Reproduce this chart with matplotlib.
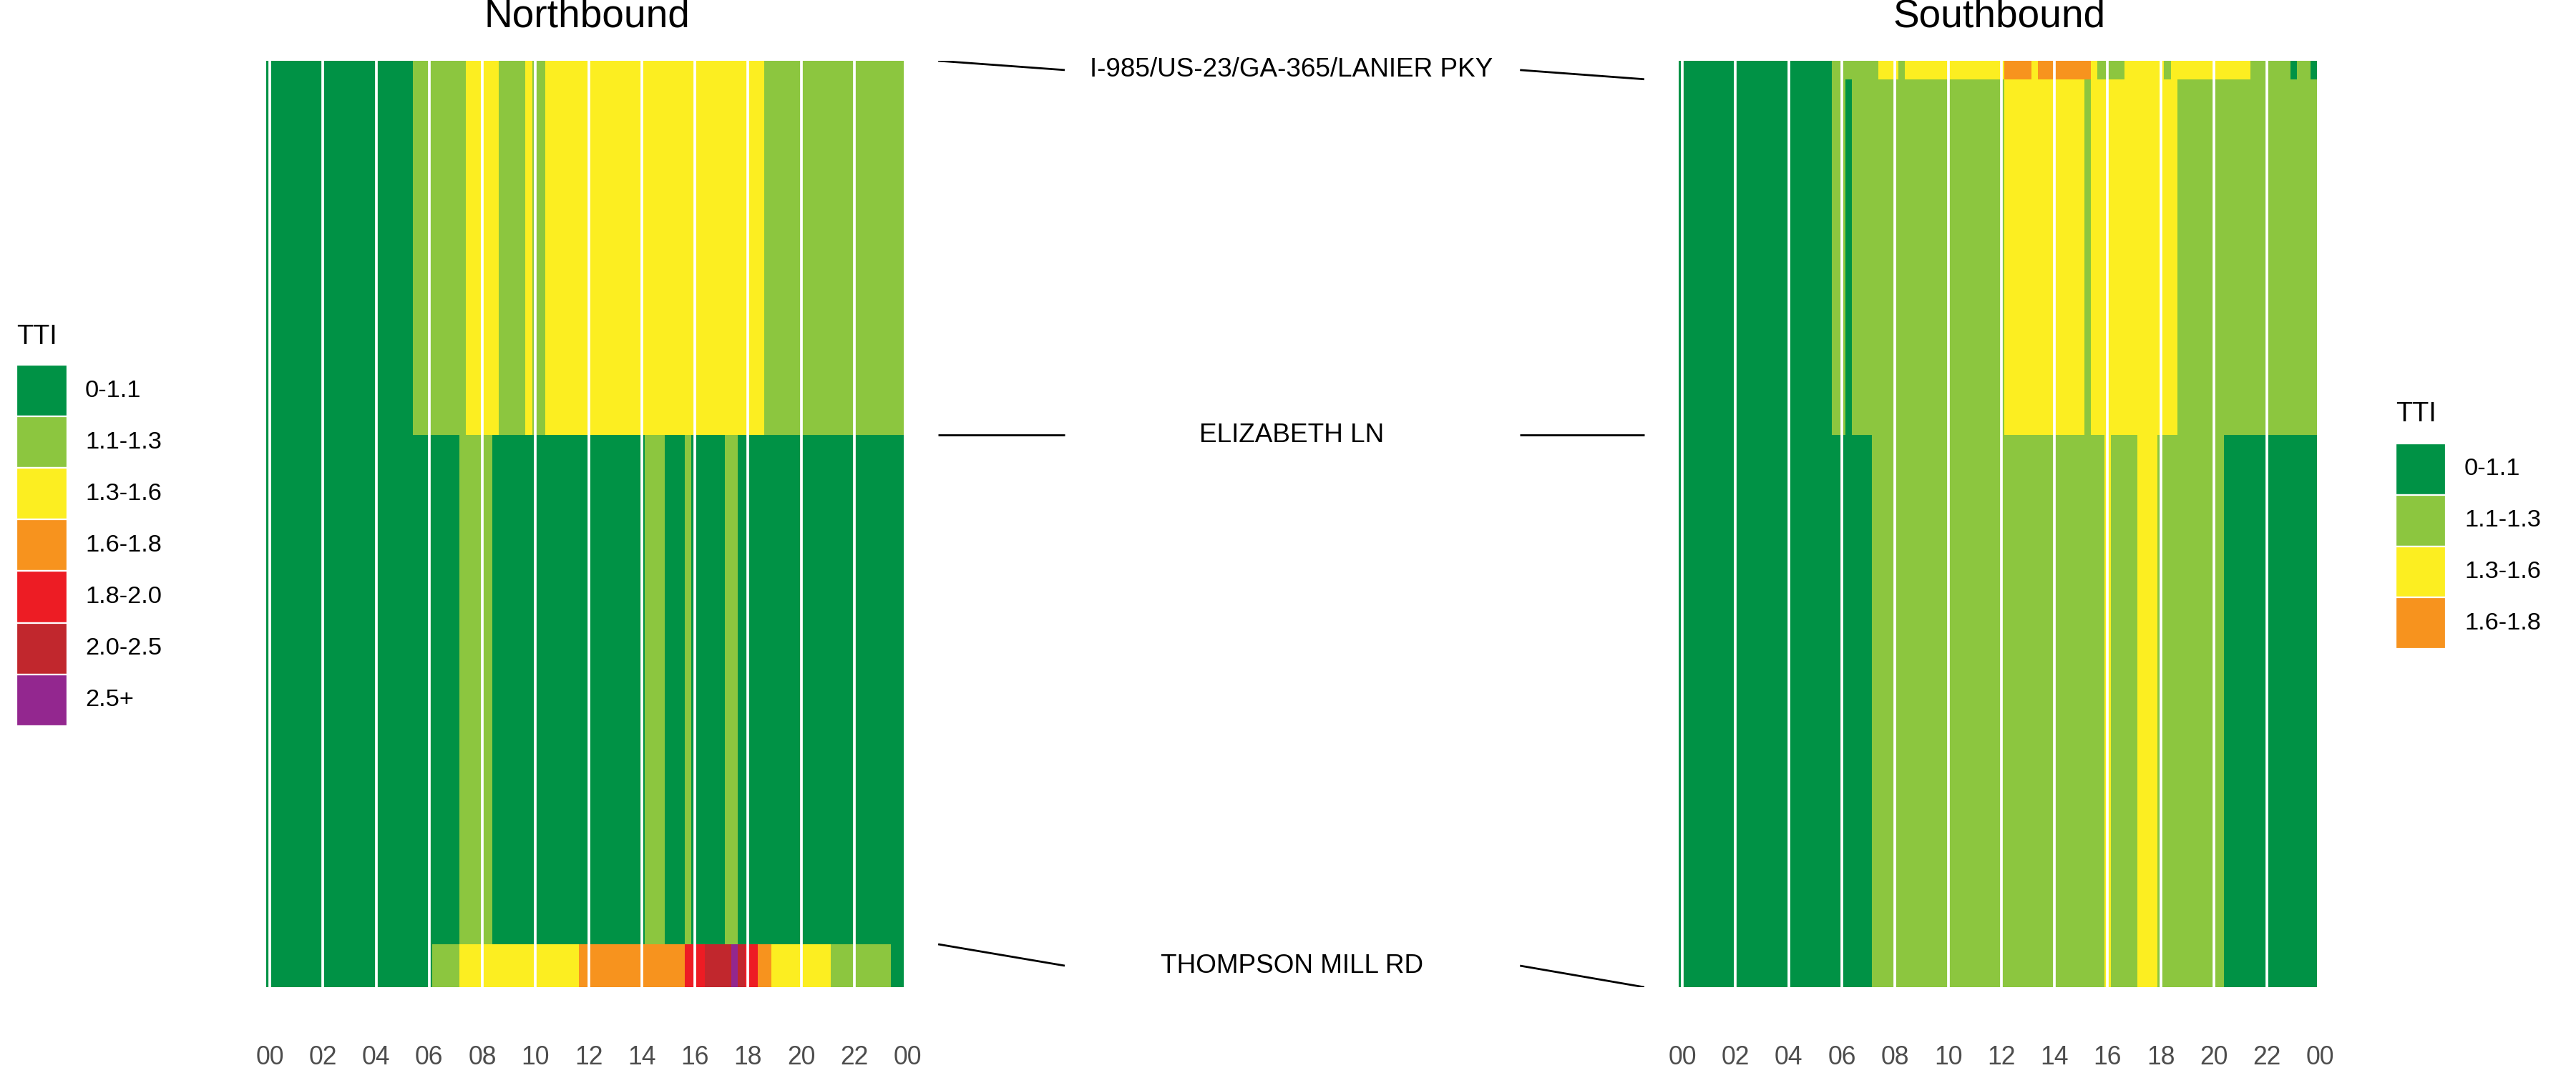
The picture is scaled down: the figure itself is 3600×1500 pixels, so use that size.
import numpy as np
import matplotlib
matplotlib.use("Agg")
import matplotlib.pyplot as plt
from matplotlib.colors import ListedColormap, BoundaryNorm
from matplotlib.patches import Rectangle

plt.rcParams['font.family'] = ['Liberation Sans', 'DejaVu Sans']

# ---------------- data ----------------
TTI_LABELS = ['0-1.1', '1.1-1.3', '1.3-1.6', '1.6-1.8', '1.8-2.0', '2.0-2.5', '2.5+']
TTI_COLORS = ['#009245', '#8CC63F', '#FCEE21', '#F7931E', '#ED1C24', '#C1272D', '#93278F']

HOURS = np.arange(0, 24, 0.25)            # 15-minute bin centres
HOUR_TICKS = list(range(0, 25, 2))
HOUR_LABELS = ['00', '02', '04', '06', '08', '10', '12', '14', '16', '18', '20', '22', '00']

LANDMARKS = ['I-985/US-23/GA-365/LANIER PKY', 'ELIZABETH LN', 'THOMPSON MILL RD']
NB_LANDMARK_MI = [8.094, 4.825, 0.375]
SB_LANDMARK_MI = [7.933, 4.825, 0.0]

# segment edges (miles, bottom to top)
NB_EDGES = [0.0, 0.375, 4.825, 8.094]
SB_EDGES = [0.0, 4.825, 7.933, 8.094]

# runs of (first bin start hour, TTI class index)
NB_SOUTH_OF_THOMPSON = [(0, 0), (6.25, 1), (7.25, 2), (11.75, 3), (15.75, 4), (16.5, 5),
                        (17.5, 6), (17.75, 5), (18.0, 4), (18.5, 3), (19.0, 2), (21.25, 1),
                        (23.5, 0)]
NB_THOMPSON_ELIZABETH = [(0, 0), (7.25, 1), (8.5, 0), (14.25, 1), (15.0, 0), (15.75, 1),
                         (16.0, 0), (17.25, 1), (17.75, 0)]
NB_ELIZABETH_I985 = [(0, 0), (5.5, 1), (7.5, 2), (8.75, 1), (9.75, 2), (10.0, 1),
                     (10.5, 2), (18.75, 1)]

SB_ELIZABETH_THOMPSON = [(0, 0), (7.25, 1), (16.0, 2), (16.25, 1), (17.25, 2), (18.0, 1),
                         (20.5, 0)]
SB_I985_ELIZABETH = [(0, 0), (5.75, 1), (6.25, 0), (6.5, 1), (12.25, 2), (15.25, 1),
                     (15.5, 2), (18.75, 1)]
SB_NORTH_OF_I985 = [(0, 0), (5.75, 1), (7.5, 2), (8.25, 1), (8.5, 2), (12.25, 3), (13.25, 2),
                    (13.5, 3), (15.5, 2), (15.75, 1), (16.75, 2), (18.25, 1), (18.5, 2),
                    (21.5, 1), (23.0, 0), (23.25, 1), (23.75, 0)]


def expand(runs):
    out = np.zeros(len(HOURS), dtype=int)
    for start, code in runs:
        out[HOURS >= start - 1e-9] = code
    return out


NB_Z = np.array([expand(r) for r in (NB_SOUTH_OF_THOMPSON, NB_THOMPSON_ELIZABETH, NB_ELIZABETH_I985)])
SB_Z = np.array([expand(r) for r in (SB_ELIZABETH_THOMPSON, SB_I985_ELIZABETH, SB_NORTH_OF_I985)])

# ---------------- figure ----------------
W, H = 3600, 1500
fig = plt.figure(figsize=(18, 7.5), dpi=200)
fig.patch.set_facecolor('white')

cmap = ListedColormap(TTI_COLORS)
norm = BoundaryNorm(np.arange(-0.5, len(TTI_COLORS) + 0.5, 1), cmap.N)
x_edges = np.append(HOURS - 0.125, HOURS[-1] + 0.125)
YMAX = max(NB_EDGES[-1], SB_EDGES[-1])

ax_bottom = (H - 1380) / H
ax_height = 1295 / H


def heat_panel(left_px, right_px, edges, Z, title):
    ax = fig.add_axes([left_px / W, ax_bottom, (right_px - left_px) / W, ax_height])
    ax.pcolormesh(x_edges, edges, Z, cmap=cmap, norm=norm, shading='flat',
                  edgecolors='face', linewidth=0, antialiased=False)
    ax.set_xlim(-0.125, 24)
    ax.set_ylim(0, YMAX)
    ax.set_xticks(HOUR_TICKS, HOUR_LABELS)
    ax.set_yticks([])
    ax.tick_params(axis='x', length=0, pad=29, labelsize=12.8, labelcolor='#4D4D4D')
    ax.grid(axis='x', color='white', linewidth=1.35)
    ax.set_axisbelow(False)
    for s in ax.spines.values():
        s.set_visible(False)
    ax.set_facecolor('none')
    ax.text(0.5, (1380 - 23) / 1295, title, transform=ax.transAxes, ha='center',
            va='center', fontsize=19.8, color='black')
    return ax


ax_nb = heat_panel(372.4, 1268.0, NB_EDGES, NB_Z, 'Northbound')
ax_sb = heat_panel(2346.4, 3242.6, SB_EDGES, SB_Z, 'Southbound')

# middle connector panel
ax_mid = fig.add_axes([1268.0 / W, ax_bottom, (2346.4 - 1268.0) / W, ax_height])
ax_mid.set_xlim(0, 1)
ax_mid.set_ylim(0, YMAX)
ax_mid.axis('off')
for name, nb, sb in zip(LANDMARKS, NB_LANDMARK_MI, SB_LANDMARK_MI):
    mid = (nb + sb) / 2
    ax_mid.plot([0.040, 0.204], [nb, mid], color='black', linewidth=1.0, solid_capstyle='butt')
    ax_mid.plot([0.794, 0.955], [mid, sb], color='black', linewidth=1.0, solid_capstyle='butt')
    ax_mid.text(0.498, mid, name, ha='center', va='center', fontsize=13.3, color='black')

# legends (pixel-coordinate overlay)
ov = fig.add_axes([0, 0, 1, 1])
ov.set_xlim(0, W)
ov.set_ylim(H, 0)
ov.axis('off')


def draw_legend(x0, title_y, box_top, box_w, box_h, label_x, codes):
    ov.text(x0, title_y, 'TTI', ha='left', va='center', fontsize=13.6, color='black')
    for i, c in enumerate(codes):
        ov.add_patch(Rectangle((x0, box_top + i * box_h), box_w, box_h,
                               facecolor=TTI_COLORS[c], edgecolor='white', linewidth=0.8))
        ov.text(label_x, box_top + (i + 0.5) * box_h, TTI_LABELS[c], ha='left',
                va='center', fontsize=12.4, color='black')


nb_codes = sorted(set(NB_Z.ravel().tolist()))
sb_codes = sorted(set(SB_Z.ravel().tolist()))
draw_legend(23, 471, 510, 71, 72.1, 119, nb_codes)
draw_legend(3348, 579, 620, 70, 71.8, 3444, sb_codes)

fig.savefig('out.png', dpi=200, facecolor='white')
